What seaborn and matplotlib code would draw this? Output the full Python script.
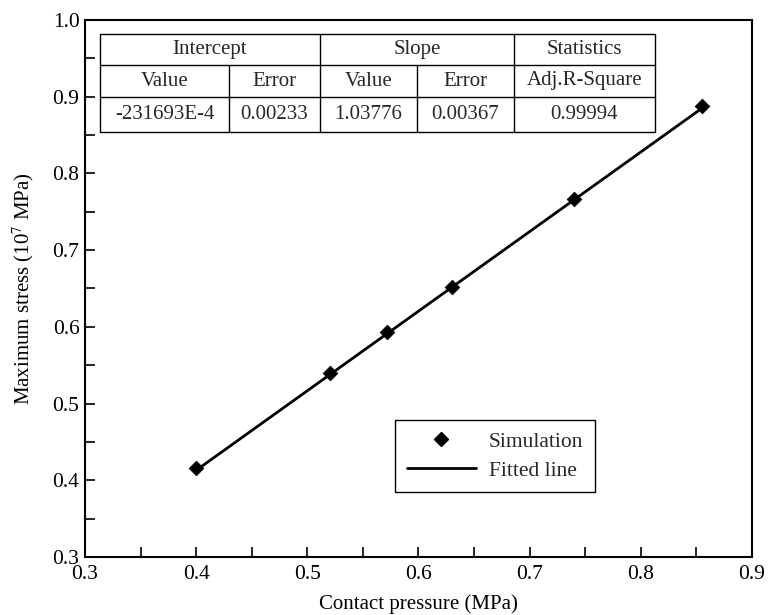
import matplotlib
matplotlib.use("Agg")
import matplotlib.pyplot as plt
import seaborn as sns
import pandas as pd
from matplotlib.ticker import MultipleLocator
from matplotlib.lines import Line2D

# ---- data ----
sim_x = [0.40, 0.52, 0.572, 0.63, 0.74, 0.855]
sim_y = [0.416, 0.540, 0.593, 0.652, 0.767, 0.888]
fit_x = [0.40, 0.855]
fit_y = [0.413, 0.885]

x_ticks = [0.3, 0.4, 0.5, 0.6, 0.7, 0.8, 0.9]
y_ticks = [0.3, 0.4, 0.5, 0.6, 0.7, 0.8, 0.9, 1.0]

table_groups = ["Intercept", "Slope", "Statistics"]
table_sub = ["Value", "Error", "Value", "Error", "Adj.R-Square"]
table_vals = ["-231693E-4", "0.00233", "1.03776", "0.00367", "0.99994"]

sns.set_theme(style="ticks")
plt.rcParams['font.family'] = ['Liberation Serif', 'DejaVu Serif']
plt.rcParams['mathtext.fontset'] = 'stix'

fig = plt.figure(figsize=(7.7, 6.15), dpi=100)
ax = fig.add_axes([85/770, 58/615, 667/770, 537/615])

sim_df = pd.DataFrame({"x": sim_x, "y": sim_y})
fit_df = pd.DataFrame({"x": fit_x, "y": fit_y})
sns.lineplot(data=fit_df, x="x", y="y", ax=ax, color="black", lw=2.0)
sns.scatterplot(data=sim_df, x="x", y="y", ax=ax, marker="D", s=55,
                color="black", edgecolor="black", zorder=3)

ax.set_xlim(0.3, 0.9)
ax.set_ylim(0.3, 1.0)
ax.set_xticks(x_ticks)
ax.set_yticks(y_ticks)
ax.set_xticklabels([f"{v:.1f}" for v in x_ticks])
ax.set_yticklabels([f"{v:.1f}" for v in y_ticks])
ax.xaxis.set_minor_locator(MultipleLocator(0.05))
ax.yaxis.set_minor_locator(MultipleLocator(0.05))
ax.tick_params(which="both", direction="in", length=7, width=1.2,
               color="black", top=False, right=False)
ax.tick_params(axis="both", which="major", labelsize=15.5, labelcolor="black")
ax.tick_params(axis="x", which="major", pad=6)
ax.tick_params(axis="y", which="major", pad=4)
for s in ax.spines.values():
    s.set_linewidth(1.5)
    s.set_color("black")

ax.set_xlabel("Contact pressure (MPa)", fontsize=15, labelpad=7, color="black")
ax.set_ylabel(r"Maximum stress (10$^7$ MPa)", fontsize=15, labelpad=12, color="black")

# ---- legend ----
handles = [Line2D([], [], marker="D", color="black", ls="none", markersize=7),
           Line2D([], [], color="black", lw=2.0)]
leg = ax.legend(handles, ["Simulation", "Fitted line"], loc="upper left",
                bbox_to_anchor=((395-85)/667, (557-420)/537), borderaxespad=0,
                fancybox=False, edgecolor="black", fontsize=15.5, handlelength=3.2,
                handletextpad=0.6, borderpad=0.55, labelspacing=0.4, framealpha=1)
leg.get_frame().set_linewidth(1.0)

# ---- table (pixel coords -> axes fraction) ----
def ax_x(px):
    return (px - 85) / 667

def ax_y(py):
    return (557 - py) / 537

xs = [100, 229, 320, 417, 514, 655]
ys = [34, 65, 97, 132]
lw = 1.0
for py in ys:
    ax.plot([ax_x(xs[0]), ax_x(xs[-1])], [ax_y(py)] * 2, transform=ax.transAxes,
            color="black", lw=lw)
for px in [xs[0], xs[2], xs[4], xs[5]]:
    ax.plot([ax_x(px)] * 2, [ax_y(ys[0]), ax_y(ys[-1])], transform=ax.transAxes,
            color="black", lw=lw)
for px in [xs[1], xs[3]]:
    ax.plot([ax_x(px)] * 2, [ax_y(ys[1]), ax_y(ys[-1])], transform=ax.transAxes,
            color="black", lw=lw)

tfs = 15
group_spans = [(xs[0], xs[2]), (xs[2], xs[4]), (xs[4], xs[5])]
for (a, b), t in zip(group_spans, table_groups):
    ax.text(ax_x((a + b) / 2), ax_y((ys[0] + ys[1]) / 2), t, transform=ax.transAxes,
            ha="center", va="center", fontsize=tfs)
for i, t in enumerate(table_sub):
    ax.text(ax_x((xs[i] + xs[i+1]) / 2), ax_y((ys[1] + ys[2]) / 2), t,
            transform=ax.transAxes, ha="center", va="center", fontsize=tfs)
for i, t in enumerate(table_vals):
    ax.text(ax_x((xs[i] + xs[i+1]) / 2), ax_y((ys[2] + ys[3]) / 2), t,
            transform=ax.transAxes, ha="center", va="center", fontsize=tfs)

fig.savefig("out.png", dpi=100, facecolor="white")
